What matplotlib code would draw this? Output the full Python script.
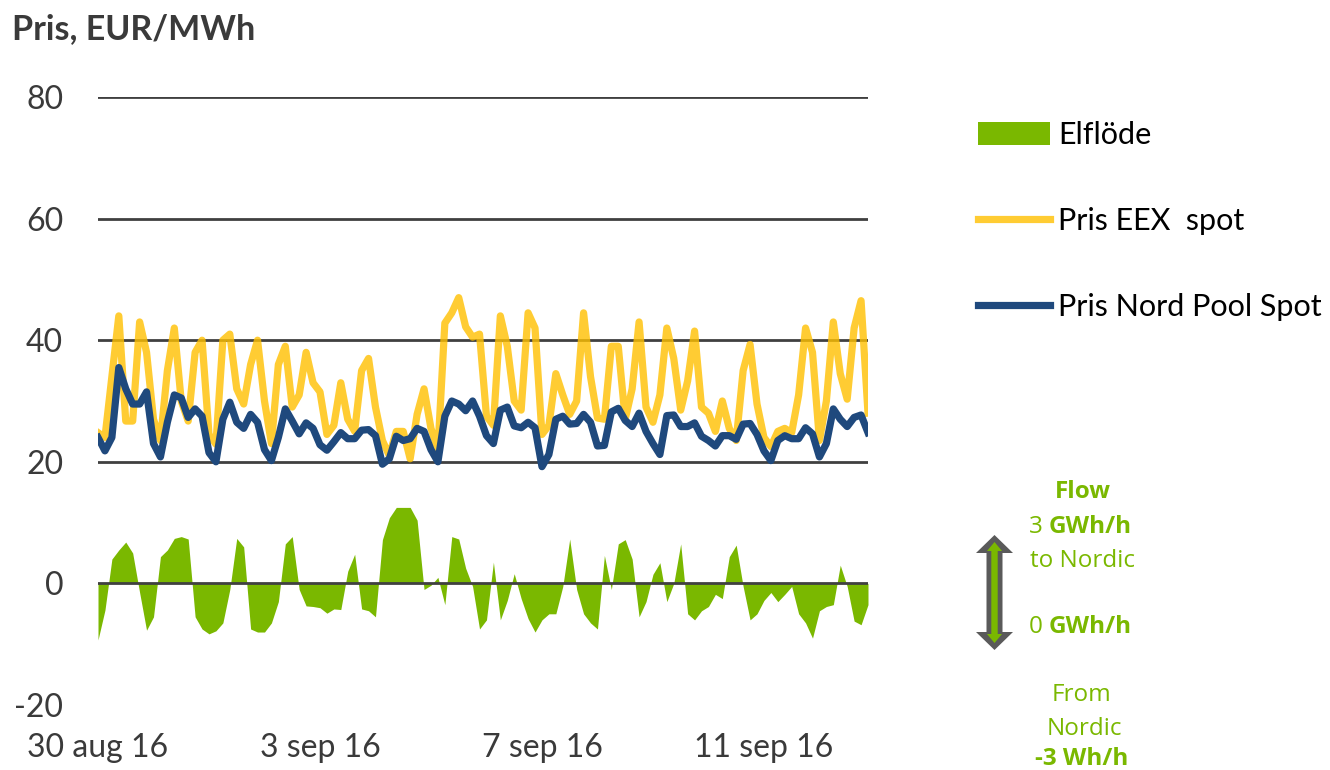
# elflode_chart.py
# Pris EEX spot vs Nord Pool spot, plus Elflöde (flow), 30 aug - 12 sep 2016

import numpy as np
import pandas as pd
import matplotlib.pyplot as plt
from matplotlib.patches import Patch, Polygon
from matplotlib.lines import Line2D

# ── Data (3-hourly readings) ──────────────────────────────────────────────────
start = '2016-08-30 00:00'
step = '3h'

eex_spot = [
    24.8, 24.0, 34, 44, 26.7, 26.7, 43, 38, 27, 23.5, 35, 42, 30, 26.7, 38, 40, 24.5, 22.9, 40,
    41, 32, 29.5, 36, 40, 30, 23, 36, 39, 29, 31, 38, 33, 31.5, 24.5, 26, 33, 27, 25,
    35, 37, 29, 23.5, 21, 25, 25, 20.5, 27.8, 32, 25.5, 22, 42.8, 44.5, 47, 42.2, 40.5, 41,
    27.5, 26, 44, 39, 30, 28.5, 44.5, 42, 24.5, 26, 34.5, 31, 27.8, 30, 44.5, 34, 27.2, 27, 39,
    39, 27, 32, 43, 29, 26.5, 31, 42, 37, 28.5, 33.3, 41.5, 29, 28, 25, 30, 25.5, 23.5, 35,
    39.3, 29.5, 24, 22.5, 25, 25.5, 24.8, 31, 42, 38, 23.5, 30, 43, 34.5, 30.3, 42, 46.5, 28,
]

nordpool_spot = [
    24, 21.8, 24, 35.5, 32, 29.5, 29.5, 31.5, 23, 20.8, 26.5, 31, 30.5, 27.3, 28.7, 27.5, 21.5, 20, 27,
    29.8, 26.5, 25.5, 27.8, 26.5, 22, 20.2, 24, 28.7, 26.7, 24.6, 26.4, 25.5, 22.8, 21.9, 23.3, 24.8, 23.8, 23.8,
    25.2, 25.3, 24.3, 19.6, 20.5, 24.2, 23.5, 23.8, 25.5, 25, 22, 20, 27.5, 30, 29.5, 28.4, 30, 27.5,
    24.3, 23, 28.5, 29, 25.9, 25.6, 26.5, 25.6, 19.2, 21.2, 27, 27.5, 26.2, 26.3, 27.8, 26.5, 22.6, 22.7, 28.2,
    28.8, 26.8, 25.8, 28, 25, 23, 21.2, 27.6, 27.7, 25.8, 25.8, 26.4, 24.2, 23.5, 22.6, 24.3, 24.3, 23.7, 26.2,
    26.3, 24.5, 21.8, 20.2, 23.5, 24.3, 23.8, 23.8, 25.6, 24.6, 20.8, 23, 28.7, 27, 25.8, 27.3, 27.7, 24.8,
]

elflode = [
    -9.3, -4.4, 4, 5.5, 6.8, 5, -1.5, -7.7, -5.5, 4.4, 5.5, 7.4, 7.7, 7.3, -5.5, -7.5, -8.3, -7.8, -6.5,
    -1, 7.4, 6, -7.5, -8, -8, -6.5, -3, 6.5, 7.7, -1, -3.7, -3.8, -4, -4.9, -4.2, -4.3, 2, 4.8,
    -4.2, -4.5, -5.5, 7.2, 10.8, 12.5, 12.5, 12.5, 10.4, -1, -0.3, 1, -3.5, 7.7, 7.3, 2.5, -0.5, -7.5,
    -6, 3.5, -6, -2.8, 1.6, -2.5, -5.8, -8, -6, -5, -5, -0.5, 7.3, -1, -5, -6.5, -7.5, 4.6, -1,
    6.5, 7.2, 4, -5.5, -3, 1.5, 3.4, -3, 0, 6.5, -5, -6, -4.5, -3.8, -1.8, -2.5, 4.4, 6.3, -0.5,
    -6, -5, -2.8, -1.5, -3, -1.8, -0.5, -5, -6.5, -9, -4.5, -3.8, -3.5, 3, -0.5, -6.2, -6.8, -3.5,
]

tick_dates  = ['2016-08-30', '2016-09-03', '2016-09-07', '2016-09-11']
tick_labels = ['30 aug 16', '3 sep 16', '7 sep 16', '11 sep 16']
y_ticks     = [-20, 0, 20, 40, 60, 80]
grid_levels = [0, 20, 40, 60, 80]

times = pd.date_range(start, periods=len(eex_spot), freq=step)

# ── Style ─────────────────────────────────────────────────────────────────────
YELLOW = '#FFC000'
NAVY   = '#1F497D'
GREEN  = '#7AB800'
GRID   = '#404040'
TEXT   = '#3a3a3a'
LW     = 5.2

plt.rcParams['font.family'] = 'Lato'
plt.rcParams['axes.unicode_minus'] = False

W, H = 1330, 770
fig = plt.figure(figsize=(W / 100, H / 100), dpi=100)

def px(x, y):
    """image pixel (top-left origin) -> figure fraction"""
    return x / W, 1 - y / H

l, t = px(98, 97)
r, b = px(868, 705)
ax = fig.add_axes([l, b, r - l, t - b])

ax.fill_between(times, 0, elflode, color=GREEN, linewidth=0, zorder=1)
for g in grid_levels:
    ax.axhline(g, color=GRID, linewidth=2.0, zorder=1.5)
ax.plot(times, eex_spot, color=YELLOW, alpha=0.8, linewidth=LW,
        solid_joinstyle='round', zorder=3)
ax.plot(times, nordpool_spot, color=NAVY, linewidth=LW,
        solid_joinstyle='round', zorder=4)

ax.set_xlim(times[0], times[-1])
ax.set_ylim(-20, 80)
ax.set_yticks(y_ticks)
ax.set_xticks(pd.to_datetime(tick_dates))
ax.set_xticklabels(tick_labels)
ax.tick_params(length=0, labelsize=23, colors=TEXT)
ax.tick_params(axis='y', pad=25)
ax.tick_params(axis='x', pad=20)
for s in ax.spines.values():
    s.set_visible(False)

fig.text(*px(12, 39), 'Pris, EUR/MWh', fontsize=24.5, fontweight='bold',
         color=TEXT, ha='left', va='baseline')

# ── Legend ────────────────────────────────────────────────────────────────────
handles = [
    Patch(facecolor=GREEN, edgecolor='none'),
    Line2D([], [], color=YELLOW, alpha=0.8, linewidth=LW),
    Line2D([], [], color=NAVY, linewidth=LW),
]
labels = ['Elflöde', 'Pris EEX  spot', 'Pris Nord Pool Spot']
fig.legend(handles, labels, loc='upper left', bbox_to_anchor=px(978, 121),
           frameon=False, fontsize=22, borderpad=0, borderaxespad=0,
           handlelength=2.35, handleheight=0.75, handletextpad=0.28,
           labelspacing=1.9)

# ── Flow annotation ───────────────────────────────────────────────────────────
def double_arrow(cx, ytop, ybot, hw, sw, hl, color):
    pts = [(cx, ytop), (cx + hw, ytop + hl), (cx + sw, ytop + hl),
           (cx + sw, ybot - hl), (cx + hw, ybot - hl), (cx, ybot),
           (cx - hw, ybot - hl), (cx - sw, ybot - hl), (cx - sw, ytop + hl),
           (cx - hw, ytop + hl)]
    fig.add_artist(Polygon([px(x, y) for x, y in pts], closed=True,
                           facecolor=color, edgecolor='none',
                           transform=fig.transFigure))

double_arrow(994.5, 535, 650, 18.5, 8, 18, '#5a5a5a')
double_arrow(994.5, 542, 643, 7.5, 3.2, 9, GREEN)

gfont = dict(family='Open Sans', fontsize=17.5, color=GREEN, va='baseline')
fig.text(*px(1083, 498), 'Flow', ha='center', fontweight='bold', **gfont)
fig.text(*px(1043, 533), '3', ha='right', **gfont)
fig.text(*px(1049, 533), 'GWh/h', ha='left', fontweight='bold', **gfont)
fig.text(*px(1083, 567), 'to Nordic', ha='center', **gfont)
fig.text(*px(1043, 633), '0', ha='right', **gfont)
fig.text(*px(1049, 633), 'GWh/h', ha='left', fontweight='bold', **gfont)
fig.text(*px(1082, 701), 'From', ha='center', **gfont)
fig.text(*px(1084, 735), 'Nordic', ha='center', **gfont)
fig.text(*px(1082, 765), '-3 Wh/h', ha='center', fontweight='bold', **gfont)

fig.savefig('out.png', dpi=100)
